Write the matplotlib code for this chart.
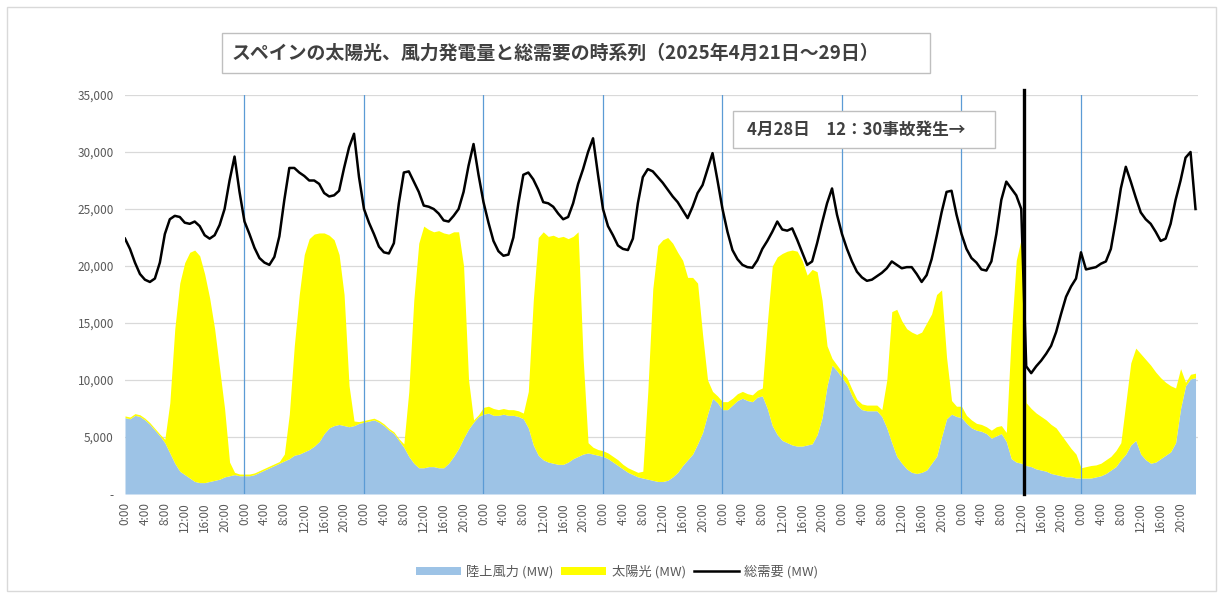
import numpy as np
import matplotlib
matplotlib.use("Agg")
import matplotlib.pyplot as plt
from matplotlib.patches import Rectangle, Patch
from matplotlib.lines import Line2D
from matplotlib.ticker import FuncFormatter

plt.rcParams['font.family'] = ['Noto Sans CJK JP', 'DejaVu Sans']

# ---------------- data (hourly, 2025-04-21 0:00 .. 04-29 23:00) ----------------
demand = [
    22400,21500,20300,19300,18800,18600,18900,20300,22800,24100,24400,24300,23800,23700,23900,23500,22700,22400,22700,23600,25000,27500,29600,26500,
    23900,22800,21600,20700,20300,20100,20800,22600,25800,28600,28600,28200,27900,27500,27500,27200,26400,26100,26200,26600,28600,30400,31600,27800,
    25000,23800,22800,21700,21200,21100,22000,25500,28200,28300,27400,26500,25300,25200,25000,24600,24000,23900,24400,25000,26500,28800,30700,28000,
    25600,23800,22200,21300,20900,21000,22500,25500,28000,28200,27600,26700,25600,25500,25200,24600,24100,24300,25500,27200,28500,30000,31200,28000,
    25000,23500,22700,21800,21500,21400,22400,25500,27800,28500,28300,27800,27300,26700,26100,25600,24900,24200,25200,26400,27100,28500,29900,27500,
    25000,23000,21400,20600,20100,19900,19850,20500,21500,22200,23000,23900,23200,23100,23300,22300,21200,20100,20400,22000,23800,25500,26800,24500,
    22800,21500,20400,19500,19000,18700,18800,19100,19400,19800,20400,20100,19800,19900,19900,19300,18600,19200,20600,22600,24700,26500,26600,24500,
    22800,21500,20700,20300,19700,19600,20400,22800,25800,27400,26800,26200,25000,11200,10600,11200,11700,12300,13000,14200,15800,17300,18200,18900,
    21200,19700,19800,19900,20200,20400,21500,24000,26800,28700,27400,26000,24700,24100,23700,23000,22200,22400,23700,25800,27500,29500,30000,25000,
]

wind = [
    6700,6600,6900,6800,6500,6100,5600,5100,4500,3600,2700,2000,1700,1400,1100,1000,1000,1100,1200,1300,1500,1600,1700,1600,
    1600,1600,1700,1900,2100,2300,2500,2700,2900,3100,3400,3500,3700,3900,4200,4600,5300,5800,6000,6100,6000,5900,6000,6200,
    6300,6400,6500,6300,6000,5600,5300,4700,4100,3300,2700,2300,2300,2400,2400,2300,2300,2700,3300,4000,4900,5700,6300,6800,
    7000,7100,6900,6900,7000,6900,6900,6800,6600,5800,4300,3400,3000,2800,2700,2600,2600,2800,3100,3300,3500,3600,3500,3400,
    3300,3100,2800,2500,2200,1900,1700,1500,1400,1300,1200,1100,1100,1200,1500,1900,2500,3000,3500,4400,5400,7000,8400,8000,
    7400,7400,7800,8200,8400,8200,8100,8500,8600,7500,6000,5200,4700,4500,4300,4200,4200,4300,4400,5200,6700,9500,11300,10800,
    10200,9600,8600,7800,7400,7300,7300,7300,6800,5800,4500,3300,2700,2200,1900,1800,1900,2100,2700,3300,5000,6600,7000,6800,
    6700,6200,5800,5600,5500,5300,4900,5100,5300,4600,3100,2800,2700,2500,2400,2200,2100,2000,1800,1700,1600,1500,1500,1400,
    1400,1400,1400,1500,1600,1800,2100,2400,3000,3500,4300,4700,3500,3000,2700,2800,3100,3400,3700,4500,7500,9500,10100,10200,
]

solar = [
    150,150,150,150,150,150,150,150,300,4400,11800,16500,18600,19800,20300,19900,18300,16100,13300,9700,6000,1200,200,150,
    150,150,150,150,150,150,150,150,600,3900,9600,14000,17300,18500,18600,18300,17600,16900,16300,14900,11500,3600,400,150,
    150,150,150,150,150,150,150,150,300,5700,14300,19700,21200,20800,20600,20800,20600,20100,19700,19000,15100,4300,200,150,
    600,600,600,500,500,500,500,500,500,3200,12700,19100,20000,19800,20000,19900,20000,19600,19500,19700,8500,900,600,500,
    500,500,500,500,400,400,400,400,600,7700,16800,20700,21200,21300,20500,19300,18000,16000,15500,14100,8600,3000,600,600,
    700,700,600,600,600,600,600,600,700,7500,14000,15600,16400,16800,17100,17100,16300,14900,15300,14300,10300,3500,600,500,
    500,600,600,500,500,500,500,500,600,4200,11500,12900,12500,12300,12300,12200,12300,12900,13100,14200,12900,5400,1200,900,
    1000,700,700,600,600,600,700,800,700,800,10900,17700,19700,5500,5100,4900,4700,4500,4300,4100,3600,3100,2500,2100,
    900,1000,1100,1050,1100,1200,1200,1400,1500,4500,7200,8100,8800,8800,8600,7900,7100,6400,5800,4800,3500,300,400,400,
]

tick_labels = ["0:00", "4:00", "8:00", "12:00", "16:00", "20:00"] * 9
legend_labels = ["陸上風力 (MW)", "太陽光 (MW)", "総需要 (MW)"]
title = "スペインの太陽光、風力発電量と総需要の時系列（2025年4月21日～29日）"
note = "4月28日　12：30事故発生→"
event_hour = 180.5

# ---------------- figure ----------------
W, H = 1223, 595
fig = plt.figure(figsize=(W / 100, H / 100), dpi=100)
fig.patch.set_facecolor("white")

ax = fig.add_axes([125 / W, (H - 494) / H, 1073 / W, 399 / H])

hours = np.arange(len(demand))
wind_a = np.array(wind)
solar_a = np.array(solar)

for yv in range(5000, 35001, 5000):
    ax.axhline(yv, color="#d9d9d9", lw=0.9, zorder=0)

blue = "#9dc3e6"
yellow = "#ffff00"
ax.fill_between(hours, 0, wind_a, color=blue, lw=0, zorder=2)
ax.fill_between(hours, wind_a, wind_a + solar_a, color=yellow, lw=0, zorder=2)

for d in range(1, 9):
    ax.axvline(24 * d, color="#5b9bd5", lw=0.9, zorder=3)

ax.plot(hours, demand, color="black", lw=1.8, zorder=4, solid_joinstyle="round")
ax.plot([event_hour, event_hour], [0, 35450], color="black", lw=2.4, zorder=5, clip_on=False)

ax.set_xlim(0, 215.5)
ax.set_ylim(0, 35000)
for s in ax.spines.values():
    s.set_visible(False)

ax.set_yticks(range(0, 35001, 5000))
ax.yaxis.set_major_formatter(FuncFormatter(lambda v, p: "-" if v == 0 else f"{int(v):,}"))
ax.set_xticks(np.arange(0, 216, 4))
ax.set_xticklabels(tick_labels, rotation=90)
ax.tick_params(axis="both", length=0, colors="#595959", labelsize=8.5)
ax.tick_params(axis="y", pad=8)
ax.tick_params(axis="x", pad=6)

# title box
fig.add_artist(Rectangle((222 / W, (H - 73) / H), 708 / W, 40 / H, transform=fig.transFigure,
                         fill=False, edgecolor="#bfbfbf", lw=1))
fig.text(232 / W, (H - 53) / H, title, ha="left", va="center", fontsize=13.6,
         fontweight="bold", color="#404040")

# annotation box
fig.add_artist(Rectangle((733 / W, (H - 148) / H), 262 / W, 37 / H, transform=fig.transFigure,
                         facecolor="white", edgecolor="#bfbfbf", lw=1, zorder=10))
fig.text(747 / W, (H - 129.5) / H, note, ha="left", va="center", fontsize=12,
         fontweight="bold", color="#404040", zorder=11)

# outer border
fig.add_artist(Rectangle((7 / W, 4 / H), 1209 / W, 584 / H, transform=fig.transFigure,
                         fill=False, edgecolor="#d9d9d9", lw=1))

handles = [Patch(facecolor=blue, edgecolor="none"),
           Patch(facecolor=yellow, edgecolor="none"),
           Line2D([0], [0], color="black", lw=1.8)]
leg = fig.legend(handles, legend_labels, loc="center", bbox_to_anchor=(617 / W, 23 / H),
                 ncol=3, frameon=False, fontsize=9.5, handlelength=3.4, handleheight=0.6,
                 columnspacing=0.6, handletextpad=0.4)
for t in leg.get_texts():
    t.set_color("#595959")

fig.savefig("out.png", dpi=100, facecolor="white")
